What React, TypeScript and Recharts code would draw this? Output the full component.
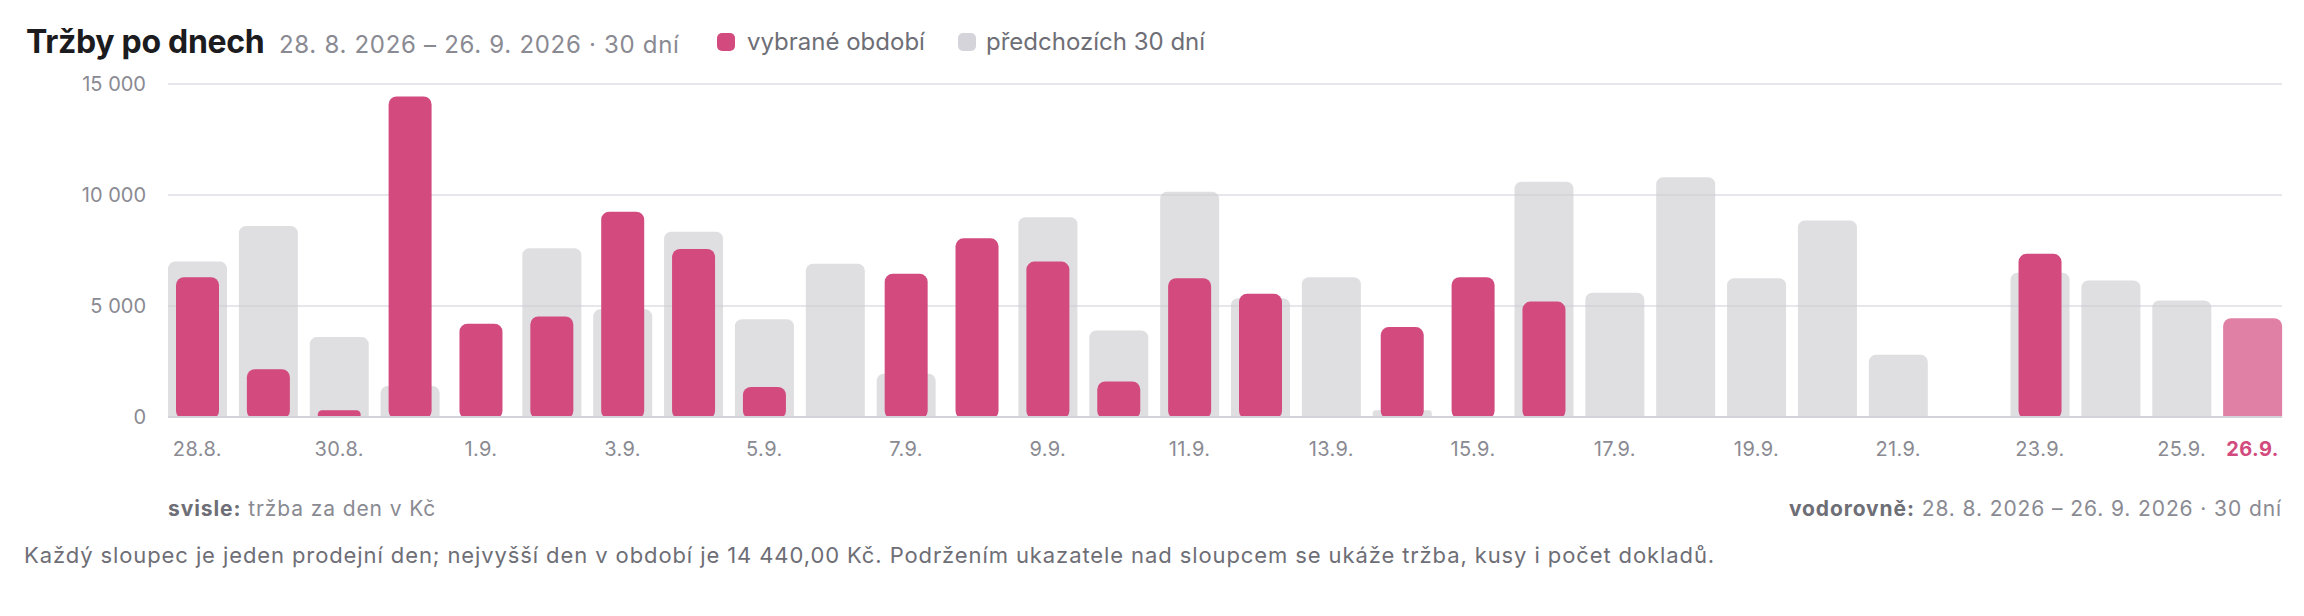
import React from "react";
import { BarChart, Bar, XAxis, YAxis, CartesianGrid, Rectangle } from "recharts";

const days = [
  "28.8.", "29.8.", "30.8.", "31.8.", "1.9.", "2.9.", "3.9.", "4.9.", "5.9.", "6.9.",
  "7.9.", "8.9.", "9.9.", "10.9.", "11.9.", "12.9.", "13.9.", "14.9.", "15.9.", "16.9.",
  "17.9.", "18.9.", "19.9.", "20.9.", "21.9.", "22.9.", "23.9.", "24.9.", "25.9.", "26.9.",
];

const selectedSales = [
  6300, 2150, 300, 14440, 4200, 4530, 9250, 7570, 1350, 0,
  6450, 8050, 7000, 1600, 6250, 5550, 0, 4050, 6300, 5200,
  0, 0, 0, 0, 0, 0, 7350, 0, 0, 4450,
];

const previousSales = [
  7000, 8600, 3600, 1400, 0, 7600, 4850, 8350, 4400, 6900,
  1950, 0, 9000, 3900, 10150, 5350, 6300, 300, 0, 10600,
  5600, 10800, 6250, 8850, 2800, 0, 6500, 6150, 5250, null,
];

const shownTicks = [
  "28.8.", "30.8.", "1.9.", "3.9.", "5.9.", "7.9.", "9.9.", "11.9.",
  "13.9.", "15.9.", "17.9.", "19.9.", "21.9.", "23.9.", "25.9.", "26.9.",
];
const highlightDay = "26.9.";
const yTicks = [0, 5000, 10000, 15000];

const FONT = "Inter, 'Noto Sans', sans-serif";
const PINK = "#D24A7E";
const PINK_LIGHT = "#E080A5";
const GRAY_BAR = "#CACACF";
const TICK = "#8A8A92";
const TEXT = "#6E6E76";

const data = days.map((day, i) => ({
  day,
  prev: previousSales[i],
  sel: day === highlightDay ? null : selectedSales[i],
  today: day === highlightDay ? selectedSales[i] : null,
}));

const fmt = (n: number) => String(n).replace(/\B(?=(\d{3})+(?!\d))/g, "\u00a0");

const XTick = (props: any) => {
  const { x, y, payload } = props;
  const v = payload?.value;
  if (!shownTicks.includes(v)) return <g />;
  const hl = v === highlightDay;
  return (
    <text
      x={x}
      y={y}
      dy={38.5}
      textAnchor="middle"
      fontFamily={FONT}
      fontSize={20}
      letterSpacing={0.4}
      fontWeight={hl ? 700 : 400}
      fill={hl ? PINK : TICK}
    >
      {v}
    </text>
  );
};

const PinkShape = (props: any) => {
  const { x, y, width, height, fill } = props;
  if (!height || height <= 0) return <g />;
  return <Rectangle x={x} y={y} width={width} height={height + 2} radius={8} fill={fill} />;
};

const abs = (left: number, top: number, extra: React.CSSProperties = {}): React.CSSProperties => ({
  position: "absolute",
  left,
  top,
  whiteSpace: "nowrap",
  fontFamily: FONT,
  ...extra,
});

export default function App() {
  return (
    <div style={{ position: "absolute", left: 0, top: 0, width: 2304, height: 616, background: "#fff", overflow: "hidden" }}>
      <div style={abs(26, 25.7, { fontSize: 32, lineHeight: "32px", fontWeight: 700, color: "#1B1B20", letterSpacing: -0.3 })}>
        Tržby po dnech
      </div>
      <div style={abs(279, 32.6, { fontSize: 24, lineHeight: "24px", color: TICK, letterSpacing: 0.7 })}>
        28. 8. 2026 – 26. 9. 2026 · 30 dní
      </div>
      <div style={abs(717, 33, { width: 18, height: 18, borderRadius: 5, background: PINK })} />
      <div style={abs(747, 30.3, { fontSize: 24, lineHeight: "24px", color: TEXT })}>vybrané období</div>
      <div style={abs(958, 33, { width: 18, height: 18, borderRadius: 5, background: "#D4D4DA" })} />
      <div style={abs(986, 30.3, { fontSize: 24, lineHeight: "24px", color: TEXT })}>předchozích 30 dní</div>

      <div style={{ position: "absolute", left: 0, top: 0 }}>
        <BarChart
          width={2304}
          height={470}
          data={data}
          margin={{ top: 84, right: 22, bottom: 0, left: 0 }}
        >
          <CartesianGrid vertical={false} stroke="#E6E6EC" strokeWidth={2} />
          <XAxis xAxisId="prev" dataKey="day" hide padding={{ left: -6, right: -6 }} />
          <XAxis xAxisId="today" dataKey="day" hide padding={{ left: -6, right: -6 }} />
          <XAxis
            dataKey="day"
            interval={0}
            height={53}
            tickSize={0}
            tickMargin={0}
            tickLine={false}
            axisLine={{ stroke: "#D2D2D8", strokeWidth: 2 }}
            tick={<XTick />}
            padding={{ left: -6, right: -6 }}
          />
          <YAxis
            width={168}
            domain={[0, 15000]}
            ticks={yTicks}
            tickFormatter={fmt}
            axisLine={false}
            tickLine={false}
            tickSize={0}
            tickMargin={22}
            tick={{ fill: TICK, fontSize: 20, fontFamily: FONT }}
            allowDataOverflow
          />
          <Bar
            xAxisId="prev"
            dataKey="prev"
            barSize={59}
            fill={GRAY_BAR}
            fillOpacity={0.6}
            radius={[7, 7, 0, 0]}
            isAnimationActive={false}
          />
          <Bar
            xAxisId="today"
            dataKey="today"
            barSize={59}
            fill={PINK_LIGHT}
            radius={[8, 8, 0, 0]}
            isAnimationActive={false}
          />
          <Bar
            dataKey="sel"
            barSize={43}
            fill={PINK}
            shape={<PinkShape />}
            isAnimationActive={false}
          />
        </BarChart>
      </div>

      <div style={abs(168, 498.4, { fontSize: 21, lineHeight: "21px", color: TICK, letterSpacing: 0.9 })}>
        <span style={{ fontWeight: 700, color: TEXT }}>svisle:</span> tržba za den v Kč
      </div>
      <div style={{ ...abs(0, 498.4, { fontSize: 21, lineHeight: "21px", color: TICK, letterSpacing: 0.9 }), left: "auto", right: 22 }}>
        <span style={{ fontWeight: 700, color: TEXT }}>vodorovně:</span> 28. 8. 2026 – 26. 9. 2026 · 30 dní
      </div>
      <div style={abs(24, 544.3, { fontSize: 22, lineHeight: "22px", color: TEXT, letterSpacing: 0.9 })}>
        Každý sloupec je jeden prodejní den; nejvyšší den v období je 14 440,00 Kč. Podržením ukazatele nad sloupcem se ukáže tržba, kusy i počet dokladů.
      </div>
    </div>
  );
}
